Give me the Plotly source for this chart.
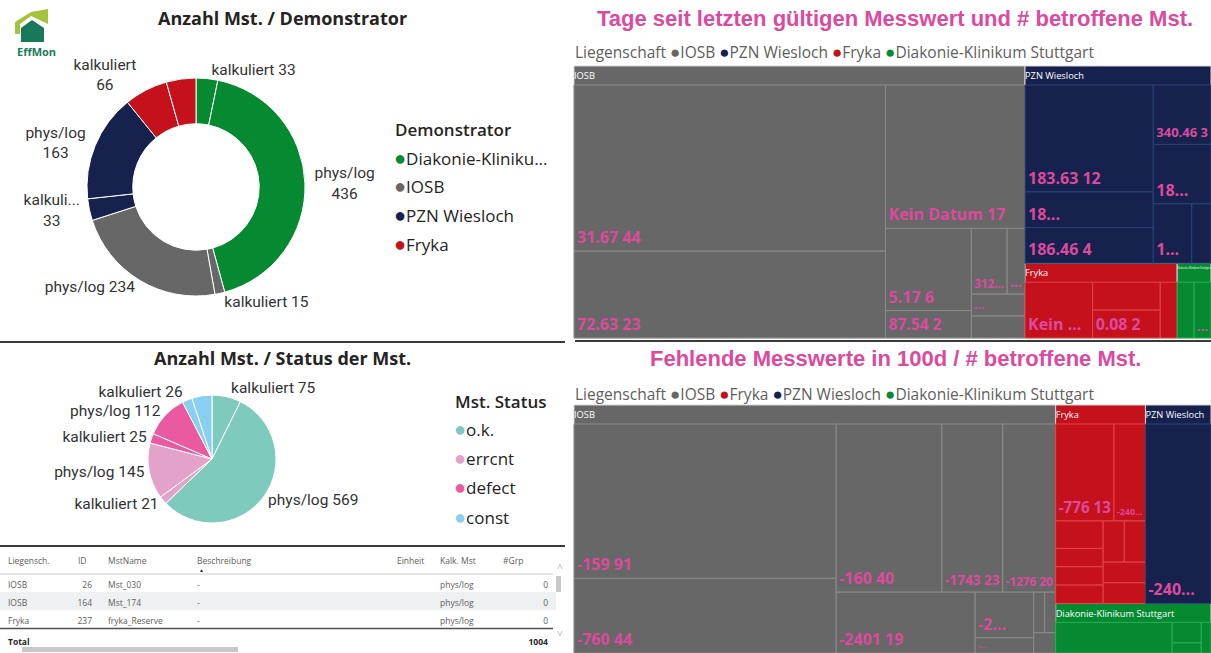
import plotly.graph_objects as go

W, H = 1211, 653


def px(x):
    return x / W


def py(y):
    return 1 - y / H


# ---------------- data ----------------
demo_groups = ["Diakonie-Klinikum Stuttgart", "IOSB", "PZN Wiesloch", "Fryka"]
demo_legend_names = ["Diakonie-Kliniku...", "IOSB", "PZN Wiesloch", "Fryka"]
group_colors = {
    "Diakonie-Klinikum Stuttgart": "#058A32",
    "IOSB": "#676767",
    "PZN Wiesloch": "#16214D",
    "Fryka": "#C5111B",
}
group_line_colors = {
    "Diakonie-Klinikum Stuttgart": "#2AAE55",
    "IOSB": "#8C8C8C",
    "PZN Wiesloch": "#24467A",
    "Fryka": "#E2454A",
}

donut_group = ["Diakonie-Klinikum Stuttgart", "Diakonie-Klinikum Stuttgart", "IOSB", "IOSB",
               "PZN Wiesloch", "PZN Wiesloch", "Fryka", "Fryka"]
donut_type = ["kalkuliert", "phys/log", "kalkuliert", "phys/log",
              "kalkuliert", "phys/log", "kalkuliert", "phys/log"]
donut_values = [33, 436, 15, 234, 33, 163, 66, 45]
donut_text = ["kalkuliert 33", "phys/log<br>436", "kalkuliert 15", "phys/log 234",
              "kalkuli...<br>33", "phys/log<br>163", "kalkuliert<br>66", ""]

status_names = ["o.k.", "errcnt", "defect", "const"]
status_colors = {"o.k.": "#7ECBBD", "errcnt": "#E3A2C9", "defect": "#EA5AA0", "const": "#89CFEF"}
status_group = ["o.k.", "o.k.", "errcnt", "errcnt", "defect", "defect", "const", "const"]
status_type = ["kalkuliert", "phys/log", "kalkuliert", "phys/log",
               "kalkuliert", "phys/log", "kalkuliert", "phys/log"]
status_values = [75, 569, 21, 145, 25, 112, 26, 52]
status_text = ["kalkuliert 75", "phys/log 569", "kalkuliert 21", "phys/log 145",
               "kalkuliert 25", "phys/log 112", "kalkuliert 26", ""]

# treemap 1: Tage seit letzten gültigen Messwert
tm1_groups = ["IOSB", "PZN Wiesloch", "Fryka", "Diakonie-Klinikum Stuttgart"]
tm1_headers = ["IOSB", "PZN Wiesloch", "Fryka", "Di..."]
tm1_leaf_group = ["IOSB"] * 9 + ["PZN Wiesloch"] * 7 + ["Fryka"] * 4 + ["Diakonie-Klinikum Stuttgart"] * 2
tm1_leaf_text = ["31.67 44", "72.63 23", "Kein Datum 17", "5.17 6", "87.54 2", "312...", "...", "...", "",
                 "183.63 12", "18...", "186.46 4", "340.46 3", "18...", "1...", "",
                 "Kein ...", "", "0.08 2", "",
                 "", "..."]
tm1_leaf_count = [44, 23, 17, 6, 2, 2, 1, 1, 1,
                  12, 4, 4, 3, 3, 2, 1,
                  4, 2, 2, 1,
                  1, 1]

# treemap 2: Fehlende Messwerte in 100d
tm2_groups = ["IOSB", "Fryka", "PZN Wiesloch", "Diakonie-Klinikum Stuttgart"]
tm2_headers = ["IOSB", "Fryka", "PZN Wies...", "Diakonie-Klinikum Stuttgart"]
tm2_leaf_group = ["IOSB"] * 11 + ["Fryka"] * 10 + ["PZN Wiesloch"] + ["Diakonie-Klinikum Stuttgart"] * 4
tm2_leaf_text = ["-159 91", "-760 44", "-160 40", "-1743 23", "-1276 20", "-2401 19", "-2...", "-...", "", "", "",
                 "-776 13", "-240...", "", "", "", "", "", "", "", "",
                 "-240...",
                 "", "", "", ""]
tm2_leaf_count = [91, 44, 40, 23, 20, 19, 6, 2, 1, 1, 1,
                  13, 7, 3, 2, 2, 2, 2, 2, 2, 2,
                  27,
                  12, 2, 1, 1]

# table
tbl_header = ["Liegensch.", "ID", "MstName", "Beschreibung", "Einheit", "Kalk. Mst", "#Grp"]
tbl_liegenschaft = ["IOSB", "IOSB", "Fryka"]
tbl_id = [26, 164, 237]
tbl_mstname = ["Mst_030", "Mst_174", "fryka_Reserve"]
tbl_beschreibung = ["-", "-", "-"]
tbl_einheit = ["", "", ""]
tbl_kalk = ["phys/log", "phys/log", "phys/log"]
tbl_grp = [0, 0, 0]
tbl_total_label = "Total"
tbl_total_grp = 1004

# ---------------- styling ----------------
PINK = "#DC4A9E"
TXT = "#252423"
GRAY_TXT = "#605E5C"
LABEL_FONT = "Roboto"
UI_FONT = "Open Sans"
HEADER_PAD = 19

fig = go.Figure()

# donut
fig.add_trace(go.Pie(
    labels=[f"{g} {t}" for g, t in zip(donut_group, donut_type)],
    values=donut_values,
    text=donut_text,
    textinfo="text",
    textposition="outside",
    outsidetextfont=dict(family=LABEL_FONT, size=15.5, color="#333333"),
    marker=dict(colors=[group_colors[g] for g in donut_group], line=dict(color="white", width=1)),
    hole=0.58,
    sort=False,
    direction="clockwise",
    rotation=0,
    showlegend=False,
    hoverinfo="skip",
    domain=dict(x=[px(196 - 109), px(196 + 109)], y=[py(187 + 109), py(187 - 109)]),
))

# status pie
fig.add_trace(go.Pie(
    labels=[f"{g} {t}" for g, t in zip(status_group, status_type)],
    values=status_values,
    text=status_text,
    textinfo="text",
    textposition="outside",
    outsidetextfont=dict(family=LABEL_FONT, size=15.5, color="#333333"),
    marker=dict(colors=[status_colors[g] for g in status_group], line=dict(color="white", width=1)),
    sort=False,
    direction="clockwise",
    rotation=0,
    showlegend=False,
    hoverinfo="skip",
    domain=dict(x=[px(212 - 64), px(212 + 64)], y=[py(459 + 64), py(459 - 64)]),
))


def build_treemap(groups, headers, leaf_group, leaf_text, leaf_count, ytop, ybot, overlay):
    """overlay=False: coloured tiles + parent headers; overlay=True: transparent tiles with leaf labels."""
    ids, parents, values, texts, colors, lcolors, fsizes, fcolors = [], [], [], [], [], [], [], []
    for g, h in zip(groups, headers):
        ids.append(g)
        parents.append("")
        values.append(0)
        texts.append("" if overlay else h)
        colors.append("rgba(0,0,0,0)" if overlay else group_colors[g])
        lcolors.append("rgba(0,0,0,0)" if overlay else "#D4D4D4")
        fsizes.append(10)
        fcolors.append("white")
    for i, (g, t, c) in enumerate(zip(leaf_group, leaf_text, leaf_count)):
        ids.append(f"{g}/{i}")
        parents.append(g)
        values.append(c)
        texts.append(f"<b>{t}</b>" if (t and overlay) else "")
        colors.append("rgba(0,0,0,0)" if overlay else group_colors[g])
        lcolors.append("rgba(0,0,0,0)" if overlay else group_line_colors[g])
        fsizes.append(16)
        fcolors.append(PINK)
    # the (hidden) common root also reserves a header band, so the domain starts one band higher
    return go.Treemap(
        ids=ids,
        labels=ids,
        parents=parents,
        values=values,
        text=texts,
        texttemplate="%{text}",
        textposition="bottom left" if overlay else "top left",
        textfont=dict(family=UI_FONT, size=fsizes, color=fcolors),
        marker=dict(colors=colors, line=dict(color=lcolors, width=0 if overlay else 1),
                    pad=dict(t=HEADER_PAD, l=0, r=0, b=0)),
        root=dict(color="rgba(0,0,0,0)"),
        tiling=dict(pad=0, packing="squarify", squarifyratio=2),
        pathbar=dict(visible=False),
        sort=True,
        hoverinfo="skip",
        domain=dict(x=[px(574), 1], y=[py(ybot), py(ytop - HEADER_PAD)]),
    )


for ov in (False, True):
    fig.add_trace(build_treemap(tm1_groups, tm1_headers, tm1_leaf_group, tm1_leaf_text, tm1_leaf_count,
                                66, 338, ov))
for ov in (False, True):
    fig.add_trace(build_treemap(tm2_groups, tm2_headers, tm2_leaf_group, tm2_leaf_text, tm2_leaf_count,
                                405, 653, ov))

# table
row_fill = ["white", "#EEF0F2", "white", "white"]
row_font = [GRAY_TXT, GRAY_TXT, GRAY_TXT, TXT]
tbl_cells = [
    tbl_liegenschaft + [f"<b>{tbl_total_label}</b>"],
    [str(v) for v in tbl_id] + [""],
    tbl_mstname + [""],
    tbl_beschreibung + [""],
    tbl_einheit + [""],
    tbl_kalk + [""],
    [str(v) for v in tbl_grp] + [f"<b>{tbl_total_grp}</b>"],
]
fig.add_trace(go.Table(
    columnwidth=[70, 30, 89, 200, 43, 63, 61],
    header=dict(values=tbl_header, height=24, fill_color="white",
                line=dict(color="rgba(0,0,0,0)", width=0),
                align="left",
                font=dict(family=UI_FONT, size=8.5, color=GRAY_TXT)),
    cells=dict(values=tbl_cells, height=18, fill_color=[row_fill] * 7,
               line=dict(color="rgba(0,0,0,0)", width=0),
               align=["left", "right", "left", "left", "left", "left", "right"],
               font=dict(family=UI_FONT, size=8.5, color=[row_font] * 7)),
    domain=dict(x=[0, px(556)], y=[0, py(550)]),
))

# ---------------- annotations ----------------
ann = []


def text_ann(x, y, text, size, color=TXT, family=UI_FONT, xanchor="left", weight=None):
    f = dict(family=family, size=size, color=color)
    if weight:
        f["weight"] = weight
    ann.append(dict(x=px(x), y=py(y), xref="paper", yref="paper", text=text, showarrow=False,
                    xanchor=xanchor, yanchor="middle", font=f))


def dot(color, size):
    return f"<span style='color:{color};font-size:{size}px'>●</span>"


text_ann(282, 18, "<b>Anzahl Mst. / Demonstrator</b>", 18, xanchor="center")
text_ann(282, 358, "<b>Anzahl Mst. / Status der Mst.</b>", 18, xanchor="center")
text_ann(895, 18, "<b>Tage seit letzten gültigen Messwert und # betroffene Mst.</b>", 22, PINK,
         family="Liberation Sans", xanchor="center")
text_ann(895, 358, "<b>Fehlende Messwerte in 100d / # betroffene Mst.</b>", 22, PINK,
         family="Liberation Sans", xanchor="center")

# legends
text_ann(393, 129, "Demonstrator", 17, weight=600)
for i, (name, g) in enumerate(zip(demo_legend_names, demo_groups)):
    text_ann(392, 157 + i * 28.7, dot(group_colors[g], 20) + name, 17)
text_ann(453, 401, "Mst. Status", 17, weight=600)
for i, name in enumerate(status_names):
    text_ann(452, 428 + i * 29.4, dot(status_colors[name], 20) + name, 17)


def h_legend(groups, y):
    parts = ["Liegenschaft"] + [dot(group_colors[g], 17) + g for g in groups]
    text_ann(573, y, " ".join(parts), 15.5, GRAY_TXT)


h_legend(tm1_groups, 51)
h_legend(tm2_groups, 393)

# logo text and table details
text_ann(36, 52, "<b>EffMon</b>", 11, "#1D7A5B", xanchor="center")
text_ann(201, 570, "▲", 5, "#252423", xanchor="center")
text_ann(560, 566, "˄", 10, "#888888", xanchor="center")
text_ann(560, 633, "˅", 10, "#888888", xanchor="center")

# ---------------- shapes ----------------
shapes = []


def hline(x0, x1, y, color, width):
    shapes.append(dict(type="line", xref="paper", yref="paper", x0=px(x0), x1=px(x1), y0=py(y), y1=py(y),
                       line=dict(color=color, width=width)))


def rect(x0, y0, x1, y1, color):
    shapes.append(dict(type="rect", xref="paper", yref="paper", x0=px(x0), x1=px(x1), y0=py(y1), y1=py(y0),
                       fillcolor=color, line=dict(width=0)))


def poly(points, color):
    d = "M " + " L ".join(f"{px(x):.5f},{py(y):.5f}" for x, y in points) + " Z"
    shapes.append(dict(type="path", xref="paper", yref="paper", path=d, fillcolor=color, line=dict(width=0)))


hline(0, 565, 342, "#3B3B3B", 2)
hline(575, 1211, 341, "#3B3B3B", 2)
hline(0, 565, 546, "#3B3B3B", 2)
hline(0, 553, 574, "#C8C8C8", 1)
hline(0, 553, 628.5, "#505050", 1.5)
rect(22, 647, 238, 652, "#C8C8C8")
rect(556, 576, 561, 592, "#C8C8C8")

# logo
poly([(15, 34), (15, 22), (31, 12), (48, 9), (48, 24), (31, 16), (20, 24), (20, 34)], "#A5C33A")
poly([(21, 42), (21, 28), (32, 20), (44, 28), (44, 42)], "#17785A")

fig.update_layout(
    width=W, height=H,
    margin=dict(l=0, r=0, t=0, b=0),
    paper_bgcolor="white",
    plot_bgcolor="white",
    annotations=ann,
    shapes=shapes,
    showlegend=False,
)

fig.write_html("out.html",
               config={"displayModeBar": False},
               post_script="document.body.style.margin='0px';document.body.style.overflow='hidden';")
